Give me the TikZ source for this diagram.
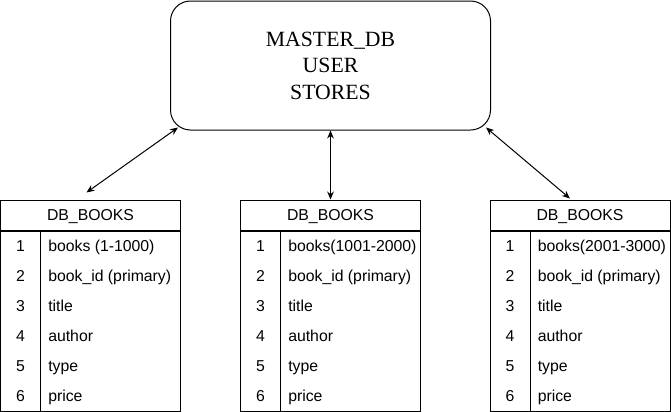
\documentclass[tikz,border=0pt]{standalone}
\usepackage{fontspec}
\setmainfont{Liberation Serif}
\setsansfont{Liberation Sans}
\usetikzlibrary{arrows.meta,positioning}
\tikzset{
	link/.style={<->, line width=0.75pt, >={Stealth[length=6pt,width=5pt]}},
	master/.style={
			draw,
			line width=0.75pt,
			rounded corners=15pt,
			minimum width=240pt,
			minimum height=96.75pt,
			align=center,
			font=\rmfamily\fontsize{16.3}{19.9}\selectfont
		},
	head/.style={
			draw,
			line width=0.75pt,
			inner sep=0pt,
			minimum width=135pt,
			minimum height=22.5pt,
			text height=7.6pt,
			text depth=0pt,
			font=\sffamily\fontsize{11.85}{14}\selectfont
		},
	numcol/.style={draw, line width=0.75pt, inner sep=0pt, minimum width=30pt, minimum height=135pt},
	keycol/.style={draw, line width=0.75pt, inner sep=0pt, minimum width=105pt, minimum height=135pt},
	num/.style={inner sep=0pt, anchor=base, font=\sffamily\fontsize{11.85}{14}\selectfont},
	field/.style={inner sep=0pt, anchor=base west, font=\sffamily\fontsize{11.85}{14}\selectfont}
}
\begin{document}
\begin{tikzpicture}[x=0.75pt, y=-0.75pt]
	\useasboundingbox (0,0) rectangle (671,411);

	\node[master] at (330.5,65.5) (master) {MASTER\_DB\\USER\\STORES};

	% first shard
	\node[head] at (90.5,215) (headA) {DB\_BOOKS};
	\node[numcol, below right=0pt of headA.south west] (colA) {};
	\node[keycol, below left=0pt of headA.south east] (keyA) {};
	\foreach \f [count=\i] in {books (1-1000), book\_id (primary), title, author, type, price} {
		\node[num] at ([shift={(0,{30*\i-9})}]colA.north) (numA\i) {\i};
		\node[field] at ([shift={(8,{30*\i-9})}]keyA.north west) (fieldA\i) {\f};
	}

	% second shard
	\node[head] at (330.5,215) (headB) {DB\_BOOKS};
	\node[numcol, below right=0pt of headB.south west] (colB) {};
	\node[keycol, below left=0pt of headB.south east] (keyB) {};
	\foreach \f [count=\i] in {books(1001-2000), book\_id (primary), title, author, type, price} {
		\node[num] at ([shift={(0,{30*\i-9})}]colB.north) (numB\i) {\i};
		\node[field] at ([shift={(8,{30*\i-9})}]keyB.north west) (fieldB\i) {\f};
	}

	% third shard
	\node[head] at (580,215) (headC) {DB\_BOOKS};
	\node[numcol, below right=0pt of headC.south west] (colC) {};
	\node[keycol, below left=0pt of headC.south east] (keyC) {};
	\foreach \f [count=\i] in {books(2001-3000), book\_id (primary), title, author, type, price} {
		\node[num] at ([shift={(0,{30*\i-9})}]colC.north) (numC\i) {\i};
		\node[field] at ([shift={(8,{30*\i-9})}]keyC.north west) (fieldC\i) {\f};
	}

	\draw[link] ([shift={(-4,-7)}]headA.north) -- ([shift={(8,-3)}]master.south west);
	\draw[link] (master.south) -- (headB.north);
	\draw[link] ([shift={(-5,-3)}]master.south east) -- ([shift={(-10,-1)}]headC.north);
\end{tikzpicture}
\end{document}
